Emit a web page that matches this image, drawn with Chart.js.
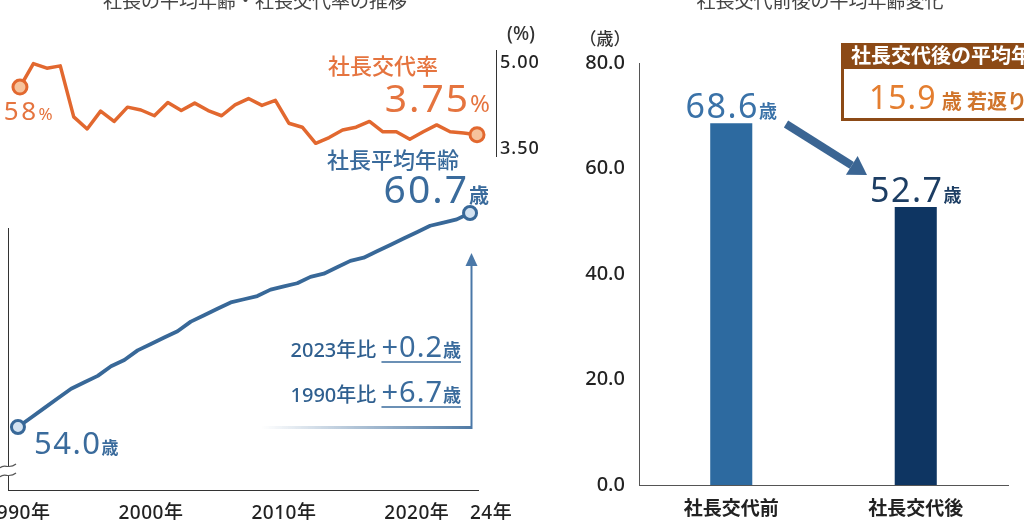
<!DOCTYPE html>
<html lang="ja">
<head>
<meta charset="utf-8">
<title>社長の平均年齢・社長交代率の推移</title>
<script src="https://cdn.jsdelivr.net/npm/chart.js@4.4.1/dist/chart.umd.min.js"></script>
<style>
  html, body { margin: 0; padding: 0; background: #fff; }
  #wrap { position: relative; width: 1024px; height: 520px; overflow: hidden; }
  #left  { position: absolute; left: 0;     top: 0; width: 560px; height: 520px; }
  #right { position: absolute; left: 560px; top: 0; width: 464px; height: 520px; }
</style>
</head>
<body>
<div id="wrap">
  <canvas id="left" width="560" height="520"></canvas>
  <canvas id="right" width="464" height="520"></canvas>
</div>
<script>
'use strict';

/* ---------- data ---------- */
const years = [1990, 1991, 1992, 1993, 1994, 1995, 1996, 1997, 1998, 1999,
               2000, 2001, 2002, 2003, 2004, 2005, 2006, 2007, 2008, 2009,
               2010, 2011, 2012, 2013, 2014, 2015, 2016, 2017, 2018, 2019,
               2020, 2021, 2022, 2023, 2024];

// 社長平均年齢 (歳)
const ageValues = [54.0, 54.3, 54.6, 54.9, 55.2, 55.4, 55.6, 55.9, 56.1, 56.4,
                   56.6, 56.8, 57.0, 57.3, 57.5, 57.7, 57.9, 58.0, 58.1, 58.3,
                   58.4, 58.5, 58.7, 58.8, 59.0, 59.2, 59.3, 59.5, 59.7, 59.9,
                   60.1, 60.3, 60.4, 60.5, 60.7];

// 社長交代率 (%)
const rateValues = [4.58, 4.99, 4.91, 4.95, 4.06, 3.85, 4.16, 3.98, 4.23, 4.18,
                    4.08, 4.31, 4.17, 4.30, 4.17, 4.08, 4.27, 4.38, 4.26, 4.35,
                    3.95, 3.88, 3.60, 3.70, 3.83, 3.88, 3.98, 3.80, 3.80, 3.67,
                    3.80, 3.92, 3.80, 3.78, 3.75];

const xTickYears  = [1990, 2000, 2010, 2020, 2024];
const xTickLabels = ['1990年', '2000年', '2010年', '2020年', '24年'];
const rateTicks   = [5.00, 3.50];

const barLabels = ['社長交代前', '社長交代後'];
const barValues = [68.6, 52.7];
const barTicks  = [0, 20, 40, 60, 80];

/* ---------- styles ---------- */
const FAMILY = "'Noto Sans', 'Noto Sans CJK JP', sans-serif";
const ORANGE = '#e2682f';
const ORANGE_TXT = '#e5743f';
const BLUE = '#386898';
const BLUE_TXT = '#3a6b9c';
const BAR_COLORS = ['#2d6aa0', '#0e3562'];
const BROWN = '#8c4a16';

const f = (size, weight) => `${weight || 400} ${size}px ${FAMILY}`;

// min/max so that value v1 lands on pixel p1 and v2 on p2, for an area lo..hi
function fitRange(v1, p1, v2, p2, lo, hi) {
  const k = (p2 - p1) / (v2 - v1);
  return { min: v1 + (lo - p1) / k, max: v1 + (hi - p1) / k };
}

// mixed-size text on one baseline
function drawRuns(ctx, runs, x, y, align) {
  const widths = runs.map(r => {
    ctx.font = r.font;
    ctx.letterSpacing = (r.ls || 0) + 'px';
    return ctx.measureText(r.text).width;
  });
  const total = widths.reduce((a, b) => a + b, 0);
  let cx = align === 'right' ? x - total : align === 'center' ? x - total / 2 : x;
  const spans = [];
  ctx.textAlign = 'left';
  ctx.textBaseline = 'alphabetic';
  runs.forEach((r, i) => {
    ctx.font = r.font;
    ctx.letterSpacing = (r.ls || 0) + 'px';
    ctx.fillStyle = r.color;
    ctx.fillText(r.text, cx, y);
    spans.push([cx, cx + widths[i]]);
    cx += widths[i];
  });
  ctx.letterSpacing = '0px';
  return spans;
}

function plainText(ctx, text, x, y, font, color, align, ls) {
  ctx.font = font;
  ctx.letterSpacing = (ls || 0) + 'px';
  ctx.fillStyle = color;
  ctx.textAlign = align || 'center';
  ctx.textBaseline = 'middle';
  ctx.fillText(text, x, y);
  ctx.letterSpacing = '0px';
}

/* ---------- left: line chart ---------- */
const AREA_L = { left: 8, right: 480, top: 30, bottom: 490 };
const lastIdx = years.length - 1;
const endPoint = (r) => ctx => (ctx.dataIndex === 0 || ctx.dataIndex === lastIdx) ? r : 0;

const leftDecor = {
  id: 'leftDecor',
  afterDatasetsDraw(chart) {
    const ctx = chart.ctx;
    const xA = chart.scales.xA, yR = chart.scales.yR;
    ctx.save();

    // title (cut off by the top edge)
    plainText(ctx, '社長の平均年齢・社長交代率の推移', 255, 3, f(19), '#444');

    // left axis with break mark
    ctx.strokeStyle = '#333';
    ctx.lineWidth = 1;
    ctx.beginPath();
    ctx.moveTo(8.5, 228); ctx.lineTo(8.5, 466);
    ctx.moveTo(8.5, 475); ctx.lineTo(8.5, 490);
    ctx.moveTo(8, 490.5); ctx.lineTo(479, 490.5);
    ctx.stroke();
    ctx.strokeStyle = '#555';
    ctx.lineWidth = 1.2;
    [466, 475].forEach(yy => {
      ctx.beginPath();
      ctx.moveTo(0, yy + 2);
      ctx.bezierCurveTo(4, yy - 3, 9, yy + 4, 16, yy - 2);
      ctx.stroke();
    });

    // x tick labels
    xTickYears.forEach((yr, i) => {
      const px = xA.getPixelForValue(yr) + (i === xTickYears.length - 1 ? 21 : 0);
      plainText(ctx, xTickLabels[i], px, 514, f(19, 500), '#222', 'center', 0.5);
    });

    // right (rate) axis
    ctx.strokeStyle = '#333';
    ctx.lineWidth = 1;
    ctx.beginPath();
    ctx.moveTo(496.5, 50); ctx.lineTo(496.5, 157);
    ctx.stroke();
    rateTicks.forEach(v => {
      plainText(ctx, v.toFixed(2), 500, yR.getPixelForValue(v), f(18, 500), '#222', 'left', 1);
    });
    plainText(ctx, '(%)', 521, 35, f(19, 500), '#333');

    // 社長交代率 labels
    plainText(ctx, '社長交代率', 383, 68, f(22, 500), ORANGE_TXT);
    drawRuns(ctx, [
      { text: '3.75', font: f(39, 400), color: ORANGE_TXT, ls: 2 },
      { text: '%', font: f(24, 400), color: ORANGE_TXT }
    ], 490, 112, 'right');
    // first value, "4." runs off the left edge
    drawRuns(ctx, [
      { text: '4.58', font: f(26, 400), color: ORANGE_TXT, ls: 2.5 },
      { text: '%', font: f(17, 400), color: ORANGE_TXT }
    ], -23, 120, 'left');

    // 社長平均年齢 labels
    plainText(ctx, '社長平均年齢', 393, 162, f(22, 500), BLUE_TXT);
    drawRuns(ctx, [
      { text: '60.7', font: f(39, 400), color: BLUE_TXT, ls: 2 },
      { text: '歳', font: f(20, 700), color: BLUE_TXT }
    ], 489, 203, 'right');
    drawRuns(ctx, [
      { text: '54.0', font: f(31, 400), color: BLUE_TXT, ls: 1.5 },
      { text: '歳', font: f(17, 700), color: BLUE_TXT }
    ], 34, 454, 'left');

    // comparison box: arrow + fading base line
    const grad = ctx.createLinearGradient(262, 0, 472, 0);
    grad.addColorStop(0, 'rgba(70,115,160,0)');
    grad.addColorStop(1, 'rgba(70,115,160,0.95)');
    ctx.strokeStyle = grad;
    ctx.lineWidth = 3;
    ctx.beginPath();
    ctx.moveTo(262, 427.5); ctx.lineTo(472, 427.5);
    ctx.stroke();
    ctx.strokeStyle = '#4a78a8';
    ctx.lineWidth = 2;
    ctx.beginPath();
    ctx.moveTo(471.5, 429); ctx.lineTo(471.5, 264);
    ctx.stroke();
    ctx.fillStyle = '#4a78a8';
    ctx.beginPath();
    ctx.moveTo(465.5, 266); ctx.lineTo(477.5, 266); ctx.lineTo(471.5, 253);
    ctx.closePath(); ctx.fill();

    [['2023年比 ', '+0.2', 357], ['1990年比 ', '+6.7', 402]].forEach(([lab, val, by]) => {
      const sp = drawRuns(ctx, [
        { text: lab, font: f(20, 500), color: '#2f5f8f' },
        { text: val, font: f(29, 400), color: BLUE_TXT, ls: 1 },
        { text: '歳', font: f(18, 700), color: BLUE_TXT }
      ], 461, by, 'right');
      ctx.strokeStyle = BLUE_TXT;
      ctx.lineWidth = 1.3;
      ctx.beginPath();
      ctx.moveTo(sp[1][0], by + 5); ctx.lineTo(sp[2][1], by + 5);
      ctx.stroke();
    });

    ctx.restore();
  }
};

new Chart(document.getElementById('left'), {
  type: 'line',
  data: {
    datasets: [
      {
        label: '社長交代率',
        data: years.map((yr, i) => ({ x: yr, y: rateValues[i] })),
        xAxisID: 'xR', yAxisID: 'yR',
        borderColor: ORANGE, borderWidth: 3.5, borderJoinStyle: 'round',
        pointRadius: endPoint(7), pointBorderWidth: 3,
        pointBorderColor: ORANGE, pointBackgroundColor: '#f6c39c',
        tension: 0, clip: false
      },
      {
        label: '社長平均年齢',
        data: years.map((yr, i) => ({ x: yr, y: ageValues[i] })),
        xAxisID: 'xA', yAxisID: 'yA',
        borderColor: BLUE, borderWidth: 3.8, borderJoinStyle: 'round',
        pointRadius: endPoint(6.5), pointBorderWidth: 3,
        pointBorderColor: BLUE, pointBackgroundColor: '#d3e2f1',
        tension: 0, clip: false
      }
    ]
  },
  options: {
    responsive: false,
    animation: false,
    events: [],
    layout: { padding: { left: AREA_L.left, right: 560 - AREA_L.right, top: AREA_L.top, bottom: 520 - AREA_L.bottom } },
    plugins: { legend: { display: false }, tooltip: { enabled: false } },
    scales: {
      xA: { type: 'linear', axis: 'x', display: false, ...fitRange(1990, 16, 2024, 470, AREA_L.left, AREA_L.right) },
      xR: { type: 'linear', axis: 'x', display: false, ...fitRange(1990, 18, 2024, 477, AREA_L.left, AREA_L.right) },
      yA: { type: 'linear', axis: 'y', display: false, ...fitRange(54.0, 427, 60.7, 213, AREA_L.bottom, AREA_L.top) },
      yR: { type: 'linear', axis: 'y', display: false, ...fitRange(5.00, 63, 3.50, 149, AREA_L.bottom, AREA_L.top) }
    }
  },
  plugins: [leftDecor]
});

/* ---------- right: bar chart ---------- */
const rightDecor = {
  id: 'rightDecor',
  afterDatasetsDraw(chart) {
    const ctx = chart.ctx;
    const bars = chart.getDatasetMeta(0).data;
    ctx.save();

    plainText(ctx, '社長交代前後の平均年齢変化', 260, 3, f(19), '#444');
    plainText(ctx, '（歳）', 45, 40, f(17, 500), '#333');

    // value labels above bars
    const valColors = ['#3a72a8', '#1c3d63'];
    bars.forEach((b, i) => {
      drawRuns(ctx, [
        { text: barValues[i].toFixed(1), font: f(34, 400), color: valColors[i], ls: 1.5 },
        { text: '歳', font: f(18, 700), color: valColors[i] }
      ], b.x, b.y - 5, 'center');
    });

    // arrow between the two values
    const ax0 = 226, ay0 = 124, ax1 = 307, ay1 = 175;
    const ang = Math.atan2(ay1 - ay0, ax1 - ax0);
    const headL = 18, headW = 11;
    const bx = ax1 - headL * Math.cos(ang), by = ay1 - headL * Math.sin(ang);
    ctx.strokeStyle = '#3b6593';
    ctx.fillStyle = '#3b6593';
    ctx.lineWidth = 8;
    ctx.lineCap = 'butt';
    ctx.beginPath();
    ctx.moveTo(ax0, ay0); ctx.lineTo(bx, by);
    ctx.stroke();
    ctx.beginPath();
    ctx.moveTo(ax1, ay1);
    ctx.lineTo(bx + headW * Math.sin(ang), by - headW * Math.cos(ang));
    ctx.lineTo(bx - headW * Math.sin(ang), by + headW * Math.cos(ang));
    ctx.closePath(); ctx.fill();

    // callout box
    ctx.fillStyle = BROWN;
    ctx.fillRect(281, 43, 200, 78);
    ctx.fillStyle = '#fff';
    ctx.fillRect(284, 69, 200, 49);
    plainText(ctx, '社長交代後の平均年齢', 291, 57, f(20, 700), '#fff', 'left');
    drawRuns(ctx, [
      { text: '15.9', font: f(32, 400), color: '#e47e30', ls: 1 },
      { text: ' 歳 若返り', font: f(20, 700), color: '#d0752c' }
    ], 309, 109, 'left');

    ctx.restore();
  }
};

new Chart(document.getElementById('right'), {
  type: 'bar',
  data: {
    labels: barLabels,
    datasets: [{
      label: '平均年齢',
      data: barValues,
      backgroundColor: BAR_COLORS,
      barPercentage: 0.228,
      categoryPercentage: 1
    }]
  },
  options: {
    responsive: false,
    animation: false,
    events: [],
    layout: { padding: { left: 0, right: 16, top: 63, bottom: 0 } },
    plugins: { legend: { display: false }, tooltip: { enabled: false } },
    scales: {
      x: {
        grid: { display: false, drawTicks: false },
        border: { display: true, color: '#555', width: 1 },
        ticks: { padding: 13, color: '#222', font: { family: FAMILY, size: 19, weight: '700' } },
        afterFit: s => { s.height = 35; }
      },
      y: {
        min: 0, max: 80,
        afterBuildTicks: s => { s.ticks = barTicks.map(v => ({ value: v })); },
        grid: { display: false, drawTicks: false },
        border: { display: true, color: '#555', width: 1 },
        ticks: { padding: 14, color: '#222', font: { family: FAMILY, size: 20, weight: '500' }, callback: v => Number(v).toFixed(1) },
        afterFit: s => { s.width = 79; }
      }
    }
  },
  plugins: [rightDecor]
});
</script>
</body>
</html>
